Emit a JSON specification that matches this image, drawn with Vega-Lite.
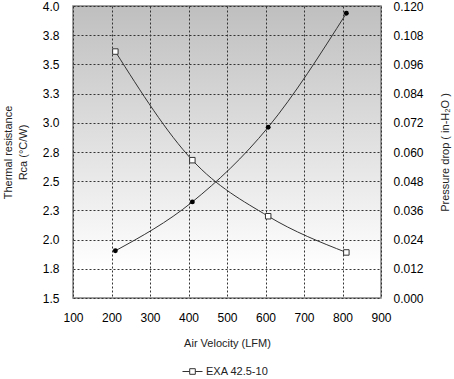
{
  "$schema": "https://vega.github.io/schema/vega-lite/v6.json",
  "width": 308,
  "height": 292,
  "autosize": {"type": "none"},
  "padding": {"left": 73, "top": 6, "right": 73, "bottom": 81},
  "config": {
    "font": "Liberation Sans",
    "view": {
      "stroke": "#808080",
      "strokeWidth": 1.5,
      "fill": {
        "gradient": "linear",
        "x1": 0, "y1": 0, "x2": 0, "y2": 1,
        "stops": [
          {"offset": 0, "color": "#bfbfbf"},
          {"offset": 0.9, "color": "#ffffff"},
          {"offset": 1, "color": "#ffffff"}
        ]
      }
    },
    "axis": {
      "labelFont": "Liberation Sans",
      "labelFontSize": 12,
      "labelColor": "#000000",
      "titleFont": "Liberation Sans",
      "titleFontSize": 11,
      "titleFontWeight": "normal",
      "titleColor": "#222222",
      "domain": false,
      "ticks": false,
      "labelFlush": false,
      "labelOverlap": false,
      "gridColor": "#333333",
      "gridDash": [2, 2],
      "gridOpacity": 1,
      "gridWidth": 1
    },
    "legend": {
      "labelFont": "Liberation Sans",
      "labelFontSize": 11,
      "labelColor": "#222222"
    }
  },
  "data": {
    "values": [
      {"v": 210, "r": 3.61, "p": 0.0194},
      {"v": 410, "r": 2.68, "p": 0.0395},
      {"v": 607, "r": 2.20, "p": 0.0702},
      {"v": 810, "r": 1.89, "p": 0.117}
    ]
  },
  "encoding": {
    "x": {
      "field": "v",
      "type": "quantitative",
      "scale": {"domain": [100, 900], "nice": false, "zero": false},
      "axis": {
        "values": [100, 200, 300, 400, 500, 600, 700, 800, 900],
        "title": "Air Velocity (LFM)",
        "labelPadding": 14,
        "titlePadding": 14,
        "grid": true
      }
    }
  },
  "layer": [
    {
      "encoding": {
        "y": {
          "field": "r",
          "type": "quantitative",
          "scale": {"domain": [1.5, 4.0], "nice": false, "zero": false},
          "axis": {
            "orient": "left",
            "values": [1.5, 1.75, 2.0, 2.25, 2.5, 2.75, 3.0, 3.25, 3.5, 3.75, 4.0],
            "format": ".1f",
            "title": ["Thermal resistance", "Rca (°C/W)"],
            "titleLineHeight": 15,
            "labelPadding": 14,
            "titlePadding": 14,
            "grid": true
          }
        }
      },
      "layer": [
        {
          "mark": {"type": "line", "interpolate": "monotone", "color": "#333333", "strokeWidth": 1}
        },
        {
          "mark": {"type": "point", "shape": "square", "filled": true, "fill": "#ffffff", "strokeWidth": 1, "size": 30, "opacity": 1},
          "encoding": {
            "stroke": {
              "datum": "EXA 42.5-10",
              "type": "nominal",
              "scale": {"range": ["#333333"]},
              "legend": {
                "title": null,
                "orient": "none",
                "legendX": 109,
                "legendY": 355,
                "padding": 0,
                "symbolType": "M-1,0H-0.28M0.28,0H1M-0.28,-0.28H0.28V0.28H-0.28Z",
                "symbolSize": 400,
                "symbolFillColor": "#ffffff",
                "symbolStrokeWidth": 1,
                "labelOffset": 3
              }
            }
          }
        }
      ]
    },
    {
      "encoding": {
        "y": {
          "field": "p",
          "type": "quantitative",
          "scale": {"domain": [0, 0.12], "nice": false},
          "axis": {
            "orient": "right",
            "values": [0, 0.012, 0.024, 0.036, 0.048, 0.06, 0.072, 0.084, 0.096, 0.108, 0.12],
            "format": ".3f",
            "title": "Pressure drop  ( in-H₂O )",
            "titleAngle": 270,
            "labelPadding": 12,
            "titlePadding": 27,
            "grid": false
          }
        }
      },
      "layer": [
        {
          "mark": {"type": "line", "interpolate": "monotone", "color": "#333333", "strokeWidth": 1}
        },
        {
          "mark": {"type": "point", "shape": "circle", "filled": true, "color": "#000000", "size": 24, "opacity": 1}
        }
      ]
    }
  ],
  "resolve": {"scale": {"y": "independent"}}
}
